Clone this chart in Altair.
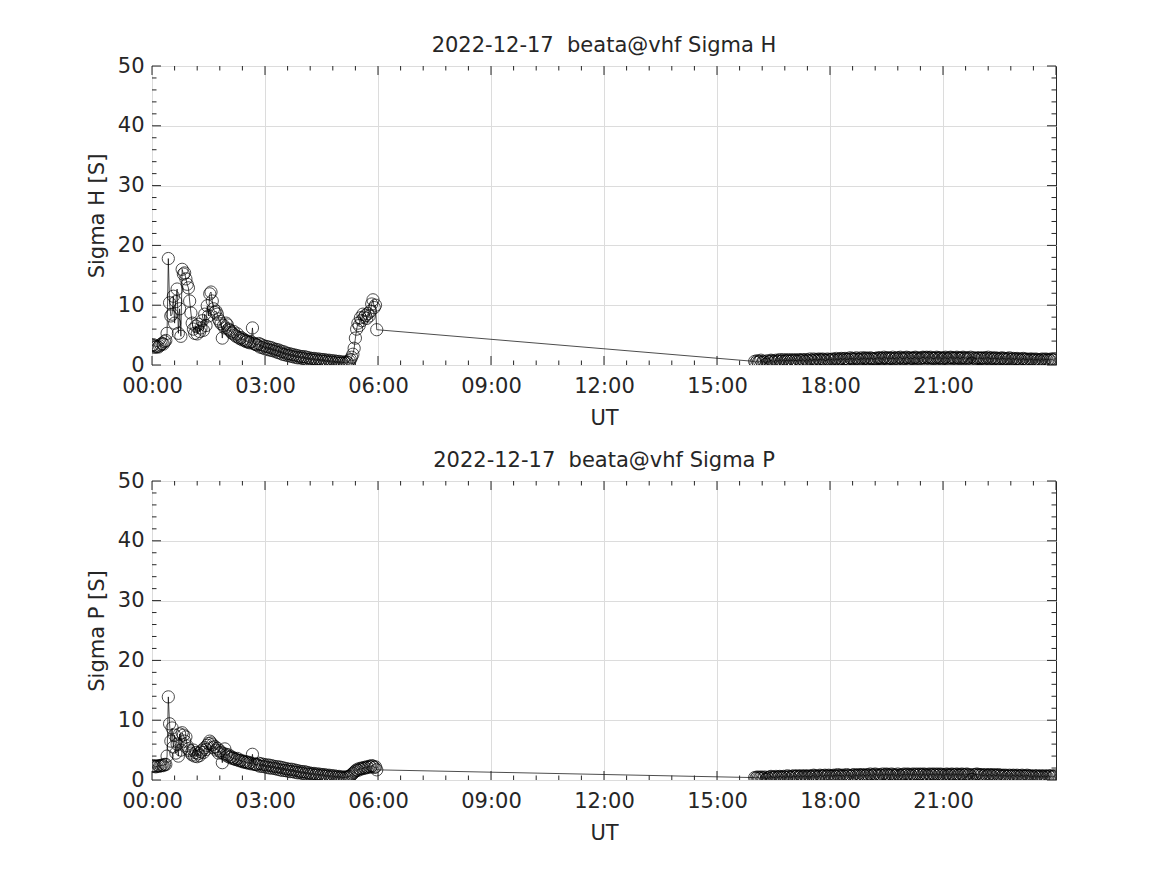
import altair as alt
import pandas as pd

# ---------------- data ----------------
# segment 1: 00:00 - 05:58 UT, 2-minute cadence
SEG1_START_H = 0.0
SEG1_STEP_H = 2 / 60
# segment 2: 16:00 - 23:58 UT, 2-minute cadence
SEG2_START_H = 16.0
SEG2_STEP_H = 2 / 60

sigma_h_seg1 = [
    3.3, 3.4, 3.2, 3.0, 3.1, 3.0, 3.2, 3.4, 3.6, 3.5,
    3.9, 4.1, 5.3, 17.8, 10.4, 8.2, 8.5, 11.5, 7.0, 10.6,
    12.7, 5.3, 9.4, 4.8, 16.0, 15.2, 15.4, 14.4, 13.5, 12.9,
    10.7, 8.7, 7.0, 6.0, 5.3, 6.5, 5.2, 6.8, 5.6, 6.2,
    7.4, 5.8, 8.5, 6.6, 9.9, 8.2, 11.9, 12.2, 10.7, 9.4,
    8.8, 9.0, 8.5, 7.7, 7.3, 6.9, 4.5, 6.6, 6.2, 7.0,
    6.7, 6.0, 5.8, 5.5, 5.3, 5.6, 5.0, 4.8, 5.2, 4.6,
    4.4, 4.6, 4.2, 4.3, 4.1, 3.9, 4.0, 3.8, 3.7, 3.9,
    6.2, 3.6, 3.5, 3.4, 3.3, 3.6, 3.0, 3.4, 2.9, 3.2,
    2.7, 3.1, 2.6, 3.0, 2.5, 2.9, 2.4, 2.7, 2.3, 2.6,
    2.1, 2.5, 2.0, 2.3, 1.8, 2.2, 1.7, 2.0, 1.6, 1.9,
    1.5, 1.8, 1.4, 1.7, 1.3, 1.6, 1.2, 1.5, 1.2, 1.4,
    1.1, 1.4, 1.0, 1.3, 0.9, 1.2, 0.9, 1.1, 0.8, 1.1,
    0.8, 1.0, 0.7, 1.0, 0.7, 0.9, 0.6, 0.9, 0.6, 0.8,
    0.5, 0.8, 0.5, 0.7, 0.4, 0.7, 0.4, 0.6, 0.3, 0.6,
    0.3, 0.5, 0.3, 0.5, 0.3, 0.5, 0.4, 0.7, 0.9, 1.3,
    1.8, 2.8, 4.5, 6.0, 7.0, 6.6, 7.9, 7.4, 8.5, 8.0,
    8.3, 7.8, 8.6, 8.2, 9.0, 10.2, 10.9, 9.6, 10.0, 5.9,
]

sigma_p_seg1 = [
    2.3, 2.4, 2.3, 2.2, 2.3, 2.4, 2.3, 2.4, 2.5, 2.4,
    2.6, 2.6, 4.0, 13.9, 9.4, 6.5, 8.7, 5.5, 7.5, 4.5,
    6.0, 4.0, 7.7, 5.0, 7.9, 7.5, 6.5, 7.2, 5.7, 5.2,
    4.9, 4.5, 4.2, 5.0, 4.0, 4.6, 3.9, 4.4, 4.1, 4.7,
    5.0, 4.6, 5.4, 5.1, 5.8, 6.1, 6.5, 6.2, 5.9, 5.4,
    5.6, 5.0, 5.3, 4.5, 4.9, 4.6, 2.9, 4.4, 5.2, 4.3,
    4.0, 4.2, 3.8, 3.9, 3.6, 3.7, 3.5, 3.4, 3.6, 3.3,
    3.2, 3.3, 3.1, 3.0, 3.1, 2.9, 3.0, 2.8, 2.9, 2.7,
    4.3, 2.7, 2.6, 2.6, 2.5, 2.8, 2.3, 2.7, 2.3, 2.6,
    2.2, 2.5, 2.1, 2.5, 2.0, 2.4, 2.0, 2.3, 1.9, 2.2,
    1.8, 2.2, 1.7, 2.1, 1.6, 2.0, 1.6, 1.9, 1.5, 1.8,
    1.4, 1.8, 1.4, 1.7, 1.3, 1.6, 1.2, 1.5, 1.2, 1.4,
    1.1, 1.4, 1.0, 1.3, 1.0, 1.2, 0.9, 1.1, 0.9, 1.1,
    0.8, 1.0, 0.8, 1.0, 0.7, 0.9, 0.7, 0.9, 0.6, 0.8,
    0.6, 0.8, 0.5, 0.7, 0.5, 0.7, 0.4, 0.6, 0.4, 0.6,
    0.4, 0.5, 0.3, 0.5, 0.4, 0.5, 0.5, 0.6, 0.7, 0.9,
    1.1, 1.3, 1.5, 1.7, 1.6, 1.9, 1.8, 2.0, 1.9, 2.1,
    2.0, 2.2, 2.1, 2.3, 2.2, 2.4, 2.3, 2.1, 2.2, 1.7,
]

sigma_h_seg2 = [
    0.6, 0.4, 0.7, 0.5, 0.6, 0.8, 0.4, 0.6, 0.5, 0.1, 0.7, 0.5, 0.6, 0.8, 0.7, 0.5, 0.6, 0.8, 0.6, 0.7,
    0.9, 0.6, 0.7, 0.9, 0.6, 0.8, 0.7, 0.9, 0.6, 0.8, 0.7, 0.9, 0.7, 0.8, 0.6, 0.9, 0.8, 0.7, 0.9, 0.8,
    0.6, 0.9, 0.8, 0.7, 1.0, 0.8, 0.7, 1.0, 0.8, 0.9, 0.7, 1.0, 0.9, 0.8, 1.0, 0.9, 0.8, 0.7, 1.0, 0.9,
    0.8, 0.9, 1.0, 0.8, 0.9, 1.1, 0.8, 0.9, 1.0, 1.1, 0.8, 1.0, 1.1, 0.9, 1.0, 0.9, 1.2, 1.0, 1.1, 0.9,
    1.0, 1.2, 1.0, 0.9, 1.0, 1.2, 0.9, 1.1, 1.2, 1.0, 1.1, 0.9, 1.2, 1.1, 1.0, 1.0, 1.1, 1.0, 1.2, 1.1,
    1.2, 1.0, 1.1, 1.3, 1.1, 1.2, 1.0, 1.2, 1.1, 1.1, 1.3, 1.0, 1.1, 1.2, 1.0, 1.2, 1.3, 1.1, 1.0, 1.2,
    1.1, 1.3, 1.2, 1.0, 1.2, 1.1, 1.1, 1.2, 1.3, 1.1, 1.2, 1.0, 1.1, 1.2, 1.3, 1.2, 1.1, 1.3, 1.2, 1.1,
    1.3, 1.2, 1.1, 1.1, 1.2, 1.3, 1.1, 1.2, 1.2, 1.0, 1.1, 1.2, 1.3, 1.1, 1.0, 1.2, 1.3, 1.2, 1.1, 1.2,
    1.1, 1.3, 1.2, 1.1, 1.1, 1.2, 1.3, 1.1, 1.2, 1.0, 1.2, 1.1, 1.3, 0.3, 1.2, 1.1, 1.0, 1.2, 1.1, 1.2,
    1.1, 1.1, 1.2, 1.0, 1.2, 1.1, 1.3, 1.0, 1.1, 1.2, 1.0, 1.1, 1.2, 1.0, 1.1, 0.9, 1.1, 1.2, 1.0, 1.1,
    0.9, 1.1, 1.0, 1.2, 0.9, 1.0, 1.1, 0.9, 1.0, 1.1, 0.9, 1.0, 0.8, 1.0, 1.1, 0.9, 1.0, 0.9, 0.8, 1.0,
    0.9, 1.0, 0.8, 0.9, 1.0, 0.8, 0.9, 0.7, 0.9, 1.0, 0.8, 0.9, 1.0, 0.8, 0.9, 0.8, 1.0, 0.9, 0.8, 1.0,
]

sigma_p_seg2 = [
    0.4, 0.3, 0.5, 0.4, 0.3, 0.5, 0.4, 0.3, 0.5, 0.1, 0.4, 0.3, 0.5, 0.6, 0.4, 0.5, 0.4, 0.6, 0.4, 0.5,
    0.6, 0.5, 0.4, 0.6, 0.5, 0.4, 0.7, 0.5, 0.6, 0.4, 0.6, 0.7, 0.5, 0.6, 0.7, 0.5, 0.6, 0.7, 0.5, 0.6,
    0.7, 0.6, 0.5, 0.7, 0.6, 0.5, 0.7, 0.8, 0.6, 0.7, 0.5, 0.6, 0.8, 0.7, 0.6, 0.7, 0.8, 0.6, 0.7, 0.8,
    0.6, 0.7, 0.6, 0.8, 0.7, 0.6, 0.9, 0.7, 0.8, 0.6, 0.8, 0.7, 0.6, 0.9, 0.7, 0.8, 0.7, 0.6, 0.8, 0.9,
    0.7, 0.8, 0.7, 0.9, 0.8, 0.7, 0.9, 0.8, 0.7, 0.8, 0.9, 0.7, 1.0, 0.8, 0.7, 0.9, 1.0, 0.8, 0.7, 0.9,
    0.8, 0.8, 1.0, 0.7, 0.9, 1.0, 0.8, 0.9, 0.7, 1.0, 0.8, 0.9, 0.7, 0.8, 1.0, 0.8, 0.7, 0.9, 0.8, 1.0,
    0.8, 0.9, 1.0, 0.8, 0.9, 0.7, 1.0, 0.9, 0.8, 1.0, 0.8, 0.9, 1.0, 0.8, 0.9, 1.0, 0.8, 0.9, 0.7, 1.0,
    0.9, 0.8, 1.0, 0.9, 0.8, 1.0, 0.8, 0.9, 1.0, 0.8, 0.9, 0.7, 0.9, 1.0, 0.8, 0.9, 0.8, 1.0, 0.9, 0.8,
    0.9, 1.0, 0.8, 0.9, 0.8, 1.0, 0.9, 0.8, 0.9, 1.0, 0.8, 0.9, 0.7, 0.1, 0.9, 0.8, 0.9, 1.0, 0.8, 0.9,
    0.8, 0.9, 0.7, 0.8, 0.9, 0.7, 0.8, 0.9, 0.8, 0.7, 0.9, 0.8, 0.7, 0.8, 0.9, 0.7, 0.8, 0.6, 0.8, 0.7,
    0.8, 0.6, 0.7, 0.8, 0.6, 0.7, 0.8, 0.7, 0.6, 0.8, 0.7, 0.6, 0.7, 0.8, 0.6, 0.7, 0.6, 0.8, 0.7, 0.6,
    0.7, 0.6, 0.5, 0.7, 0.6, 0.7, 0.5, 0.6, 0.7, 0.6, 0.5, 0.7, 0.6, 0.5, 0.7, 0.6, 0.7, 0.5, 0.6, 0.7,
]

x_major_ticks = [0, 3, 6, 9, 12, 15, 18, 21, 24]
x_label_ticks = [0, 3, 6, 9, 12, 15, 18, 21]
x_minor_ticks = [0.6, 1.2, 1.8, 2.4, 3.6, 4.2, 4.8, 5.4, 6.6, 7.2, 7.8, 8.4,
                 9.6, 10.2, 10.8, 11.4, 12.6, 13.2, 13.8, 14.4, 15.6, 16.2, 16.8, 17.4,
                 18.6, 19.2, 19.8, 20.4, 21.6, 22.2, 22.8, 23.4]
y_major_ticks = [0, 10, 20, 30, 40, 50]
y_minor_ticks = [2, 4, 6, 8, 12, 14, 16, 18, 22, 24, 26, 28, 32, 34, 36, 38, 42, 44, 46, 48]

titles = ["2022-12-17\u00a0 beata@vhf Sigma H", "2022-12-17\u00a0 beata@vhf Sigma P"]
ylabels = ["Sigma H [S]", "Sigma P [S]"]

# ---------------- build ----------------
W, H = 904, 299
FONT = "DejaVu Sans"
TXT = "#262626"
MAJ, MIN = 9, 4.5


def series_df(seg1, seg2):
    t1 = [SEG1_START_H + i * SEG1_STEP_H for i in range(len(seg1))]
    t2 = [SEG2_START_H + i * SEG2_STEP_H for i in range(len(seg2))]
    return pd.DataFrame({"t": t1 + t2, "v": seg1 + seg2, "idx": list(range(len(seg1) + len(seg2)))})


xscale = alt.Scale(domain=[0, 24], nice=False, zero=False)
yscale = alt.Scale(domain=[0, 50], nice=False, zero=False)


def panel(df, title, ylabel):
    xaxis = alt.Axis(values=x_label_ticks, title="UT",
                     labelExpr="(datum.value < 10 ? '0' : '') + datum.value + ':00'",
                     ticks=False, domain=False, grid=True, gridColor="#dcdcdc", gridWidth=1,
                     labelFontSize=21, titleFontSize=21, labelFont=FONT, titleFont=FONT,
                     labelColor=TXT, titleColor=TXT, titleFontWeight="normal",
                     labelPadding=10, titlePadding=11, labelFlush=False)
    yaxis = alt.Axis(values=y_major_ticks, title=ylabel,
                     ticks=False, domain=False, grid=True, gridColor="#dcdcdc", gridWidth=1,
                     labelFontSize=21, titleFontSize=21, labelFont=FONT, titleFont=FONT,
                     labelColor=TXT, titleColor=TXT, titleFontWeight="normal",
                     labelPadding=8, titlePadding=10, labelFlush=False)
    base = alt.Chart(df)
    line = base.mark_line(color="black", strokeWidth=0.7, clip=True).encode(
        x=alt.X("t:Q", scale=xscale, axis=xaxis),
        y=alt.Y("v:Q", scale=yscale, axis=yaxis),
        order="idx:Q",
    )
    pts = base.mark_point(shape="circle", filled=False, size=150, color="black",
                          strokeWidth=1, clip=True).encode(
        x=alt.X("t:Q", scale=xscale, axis=xaxis),
        y=alt.Y("v:Q", scale=yscale, axis=yaxis),
    )
    layers = [line, pts]

    xmaj = pd.DataFrame({"t": x_major_ticks})
    xmin = pd.DataFrame({"t": x_minor_ticks})
    ymaj = pd.DataFrame({"v": y_major_ticks})
    ymin = pd.DataFrame({"v": y_minor_ticks})
    for d, L in ((xmaj, MAJ), (xmin, MIN)):
        xe = alt.X("t:Q", scale=xscale, axis=xaxis)
        layers.append(alt.Chart(d).mark_rule(color=TXT, strokeWidth=1).encode(
            x=xe, y=alt.value(H), y2=alt.value(H - L)))
        layers.append(alt.Chart(d).mark_rule(color=TXT, strokeWidth=1).encode(
            x=xe, y=alt.value(0), y2=alt.value(L)))
    for d, L in ((ymaj, MAJ), (ymin, MIN)):
        ye = alt.Y("v:Q", scale=yscale, axis=yaxis)
        layers.append(alt.Chart(d).mark_rule(color=TXT, strokeWidth=1).encode(
            y=ye, x=alt.value(0), x2=alt.value(L)))
        layers.append(alt.Chart(d).mark_rule(color=TXT, strokeWidth=1).encode(
            y=ye, x=alt.value(W), x2=alt.value(W - L)))

    return alt.layer(*layers).properties(
        width=W, height=H,
        title=alt.Title(title, fontSize=21, font=FONT, fontWeight="normal", color=TXT, offset=-1),
    )


top = panel(series_df(sigma_h_seg1, sigma_h_seg2), titles[0], ylabels[0])
bottom = panel(series_df(sigma_p_seg1, sigma_p_seg2), titles[1], ylabels[1])

chart = alt.vconcat(top, bottom, spacing=20).properties(
    padding={"left": 77, "top": 26, "right": 5, "bottom": 5},
    background="white",
).configure_view(stroke=TXT, strokeWidth=1)

chart.save("out.html", embed_options={"renderer": "svg", "actions": False})
